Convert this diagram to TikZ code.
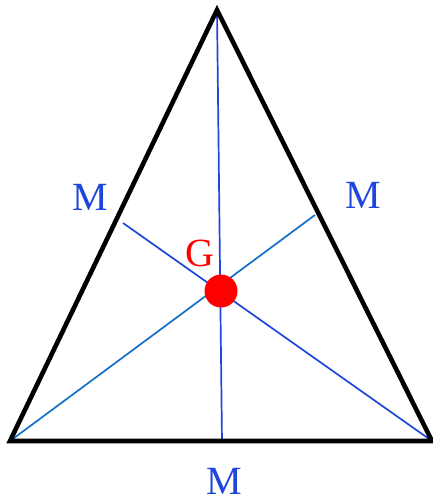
\documentclass[tikz,border=0pt]{standalone}
\usepackage{fontspec}
\setmainfont{Liberation Serif}
\definecolor{lblue}{RGB}{30,70,220}
\definecolor{mblue}{RGB}{20,110,200}
\definecolor{gred}{RGB}{255,0,0}
\tikzset{
  lato/.style={black, line width=4.6pt, line join=miter},
  mediana/.style={lblue, line width=1.7pt},
  mediana2/.style={mblue, line width=1.7pt},
  etichetta/.style={text=lblue, font=\fontsize{40}{40}\selectfont, inner sep=0pt},
}
\begin{document}
\begin{tikzpicture}[x=1pt, y=-1pt]
    \useasboundingbox (0,0) rectangle (433,500);
    % Vertici e punti medi
    \coordinate (A) at (217,10);
    \coordinate (B) at (10,441);
    \coordinate (C) at (432,441);
    \coordinate (Ma) at (222,442);
    \coordinate (Mb) at (123,223);
    \coordinate (Mc) at (315,215);

    % Mediane
    \draw[mediana] (A) -- (Ma);
    \draw[mediana] (C) -- (Mb);
    \draw[mediana2] (B) -- (Mc);

    % Triangolo
    \draw[lato] (A) -- (B) -- (C) -- cycle;

    % Baricentro
    \node[circle, fill=gred, minimum size=33pt, inner sep=0pt] (G) at (221,291) {};
    \node[etichetta, text=gred] (Glab) at (200,253) {G};

    % Etichette dei punti medi
    \node[etichetta] (Mbl) at (90,197) {M};
    \node[etichetta] (Mcl) at (363,195) {M};
    \node[etichetta] (Mal) at (224,481) {M};
\end{tikzpicture}
\end{document}
